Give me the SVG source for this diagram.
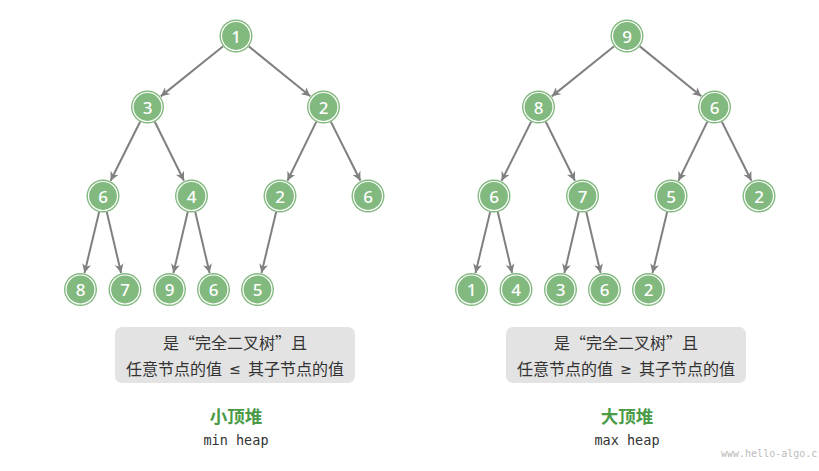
<svg xmlns="http://www.w3.org/2000/svg" width="819" height="471" viewBox="0 0 819 471">
<style>
.n circle.o{fill:#82b97f;}
.n circle.i{fill:none;stroke:#ffffff;stroke-width:1.2;}
.n text{fill:#ffffff;font-family:"Noto Sans","DejaVu Sans",sans-serif;font-size:17px;font-weight:500;text-anchor:middle;dominant-baseline:central;}
.e line{stroke:#808080;stroke-width:2;marker-end:url(#arr);}
.box{fill:#e3e3e3;}
.bt{fill:#333333;font-family:"Noto Sans CJK SC","Noto Sans",sans-serif;font-size:16px;text-anchor:middle;dominant-baseline:central;}
.sym{font-family:"Noto Sans","DejaVu Sans",sans-serif;font-size:14px;}
.title{fill:#4a9a46;font-family:"Noto Sans CJK SC",sans-serif;font-size:17.5px;font-weight:700;text-anchor:middle;dominant-baseline:central;}
.sub{fill:#333333;font-family:"DejaVu Sans Mono","Liberation Mono",monospace;font-size:13.5px;text-anchor:middle;dominant-baseline:central;}
.wm{fill:#bbbbbb;font-family:"DejaVu Sans Mono","Liberation Mono",monospace;font-size:10px;dominant-baseline:central;}
</style>
<defs>
<marker id="arr" viewBox="0 0 10 10" refX="10" refY="5" markerWidth="9" markerHeight="9" markerUnits="userSpaceOnUse" orient="auto">
<path d="M0,0 L10,5 L0,10 L3,5 z" fill="#808080"/>
</marker>
</defs>
<g id="connectors" class="e">
<line x1="223.13" y1="46.33" x2="160.76" y2="96.36"/>
<line x1="248.81" y1="46.40" x2="310.30" y2="96.29"/>
<line x1="140.12" y1="121.76" x2="110.60" y2="180.80"/>
<line x1="154.81" y1="121.79" x2="183.97" y2="180.76"/>
<line x1="316.25" y1="121.82" x2="287.46" y2="180.73"/>
<line x1="330.88" y1="121.76" x2="360.40" y2="180.80"/>
<line x1="99.14" y1="212.04" x2="84.48" y2="272.97"/>
<line x1="106.78" y1="212.06" x2="121.11" y2="272.95"/>
<line x1="187.72" y1="212.06" x2="173.39" y2="272.95"/>
<line x1="195.28" y1="212.06" x2="209.61" y2="272.95"/>
<line x1="276.14" y1="212.04" x2="261.48" y2="272.97"/>
<line x1="614.13" y1="46.33" x2="551.76" y2="96.36"/>
<line x1="639.81" y1="46.40" x2="701.30" y2="96.29"/>
<line x1="531.12" y1="121.76" x2="501.60" y2="180.80"/>
<line x1="545.81" y1="121.79" x2="574.97" y2="180.76"/>
<line x1="707.25" y1="121.82" x2="678.46" y2="180.73"/>
<line x1="721.88" y1="121.76" x2="751.40" y2="180.80"/>
<line x1="490.14" y1="212.04" x2="475.48" y2="272.97"/>
<line x1="497.78" y1="212.06" x2="512.11" y2="272.95"/>
<line x1="578.72" y1="212.06" x2="564.39" y2="272.95"/>
<line x1="586.28" y1="212.06" x2="600.61" y2="272.95"/>
<line x1="667.14" y1="212.04" x2="652.48" y2="272.97"/>
</g>
<g id="min-n1" class="n"><circle class="o" cx="236" cy="36" r="16.5"/><circle class="i" cx="236" cy="36" r="14.5"/><text x="236" y="36">1</text></g>
<g id="min-n2" class="n"><circle class="o" cx="147.5" cy="107" r="16.5"/><circle class="i" cx="147.5" cy="107" r="14.5"/><text x="147.5" y="107">3</text></g>
<g id="min-n3" class="n"><circle class="o" cx="323.5" cy="107" r="16.5"/><circle class="i" cx="323.5" cy="107" r="14.5"/><text x="323.5" y="107">2</text></g>
<g id="min-n4" class="n"><circle class="o" cx="103" cy="196" r="16.5"/><circle class="i" cx="103" cy="196" r="14.5"/><text x="103" y="196">6</text></g>
<g id="min-n5" class="n"><circle class="o" cx="191.5" cy="196" r="16.5"/><circle class="i" cx="191.5" cy="196" r="14.5"/><text x="191.5" y="196">4</text></g>
<g id="min-n6" class="n"><circle class="o" cx="280" cy="196" r="16.5"/><circle class="i" cx="280" cy="196" r="14.5"/><text x="280" y="196">2</text></g>
<g id="min-n7" class="n"><circle class="o" cx="368" cy="196" r="16.5"/><circle class="i" cx="368" cy="196" r="14.5"/><text x="368" y="196">6</text></g>
<g id="min-n8" class="n"><circle class="o" cx="80.5" cy="289.5" r="16.5"/><circle class="i" cx="80.5" cy="289.5" r="14.5"/><text x="80.5" y="289.5">8</text></g>
<g id="min-n9" class="n"><circle class="o" cx="125" cy="289.5" r="16.5"/><circle class="i" cx="125" cy="289.5" r="14.5"/><text x="125" y="289.5">7</text></g>
<g id="min-n10" class="n"><circle class="o" cx="169.5" cy="289.5" r="16.5"/><circle class="i" cx="169.5" cy="289.5" r="14.5"/><text x="169.5" y="289.5">9</text></g>
<g id="min-n11" class="n"><circle class="o" cx="213.5" cy="289.5" r="16.5"/><circle class="i" cx="213.5" cy="289.5" r="14.5"/><text x="213.5" y="289.5">6</text></g>
<g id="min-n12" class="n"><circle class="o" cx="257.5" cy="289.5" r="16.5"/><circle class="i" cx="257.5" cy="289.5" r="14.5"/><text x="257.5" y="289.5">5</text></g>
<g id="max-n1" class="n"><circle class="o" cx="627" cy="36" r="16.5"/><circle class="i" cx="627" cy="36" r="14.5"/><text x="627" y="36">9</text></g>
<g id="max-n2" class="n"><circle class="o" cx="538.5" cy="107" r="16.5"/><circle class="i" cx="538.5" cy="107" r="14.5"/><text x="538.5" y="107">8</text></g>
<g id="max-n3" class="n"><circle class="o" cx="714.5" cy="107" r="16.5"/><circle class="i" cx="714.5" cy="107" r="14.5"/><text x="714.5" y="107">6</text></g>
<g id="max-n4" class="n"><circle class="o" cx="494" cy="196" r="16.5"/><circle class="i" cx="494" cy="196" r="14.5"/><text x="494" y="196">6</text></g>
<g id="max-n5" class="n"><circle class="o" cx="582.5" cy="196" r="16.5"/><circle class="i" cx="582.5" cy="196" r="14.5"/><text x="582.5" y="196">7</text></g>
<g id="max-n6" class="n"><circle class="o" cx="671" cy="196" r="16.5"/><circle class="i" cx="671" cy="196" r="14.5"/><text x="671" y="196">5</text></g>
<g id="max-n7" class="n"><circle class="o" cx="759" cy="196" r="16.5"/><circle class="i" cx="759" cy="196" r="14.5"/><text x="759" y="196">2</text></g>
<g id="max-n8" class="n"><circle class="o" cx="471.5" cy="289.5" r="16.5"/><circle class="i" cx="471.5" cy="289.5" r="14.5"/><text x="471.5" y="289.5">1</text></g>
<g id="max-n9" class="n"><circle class="o" cx="516" cy="289.5" r="16.5"/><circle class="i" cx="516" cy="289.5" r="14.5"/><text x="516" y="289.5">4</text></g>
<g id="max-n10" class="n"><circle class="o" cx="560.5" cy="289.5" r="16.5"/><circle class="i" cx="560.5" cy="289.5" r="14.5"/><text x="560.5" y="289.5">3</text></g>
<g id="max-n11" class="n"><circle class="o" cx="604.5" cy="289.5" r="16.5"/><circle class="i" cx="604.5" cy="289.5" r="14.5"/><text x="604.5" y="289.5">6</text></g>
<g id="max-n12" class="n"><circle class="o" cx="648.5" cy="289.5" r="16.5"/><circle class="i" cx="648.5" cy="289.5" r="14.5"/><text x="648.5" y="289.5">2</text></g>
<g id="min-label">
<rect class="box" x="115" y="327" width="240" height="56" rx="7"/>
<text class="bt" x="235" y="342">是“完全二叉树”且</text>
<text class="bt" x="235" y="368" xml:space="preserve">任意节点的值  <tspan class="sym">≤</tspan>  其子节点的值</text>
<text class="title" x="236" y="415">小顶堆</text>
<text class="sub" x="236" y="440">min heap</text>
</g>
<g id="max-label">
<rect class="box" x="506" y="327" width="240" height="56" rx="7"/>
<text class="bt" x="626" y="342">是“完全二叉树”且</text>
<text class="bt" x="626" y="368" xml:space="preserve">任意节点的值  <tspan class="sym">≥</tspan>  其子节点的值</text>
<text class="title" x="627" y="415">大顶堆</text>
<text class="sub" x="627" y="440">max heap</text>
</g>
<text class="wm" x="721" y="453">www.hello-algo.c</text>
</svg>
